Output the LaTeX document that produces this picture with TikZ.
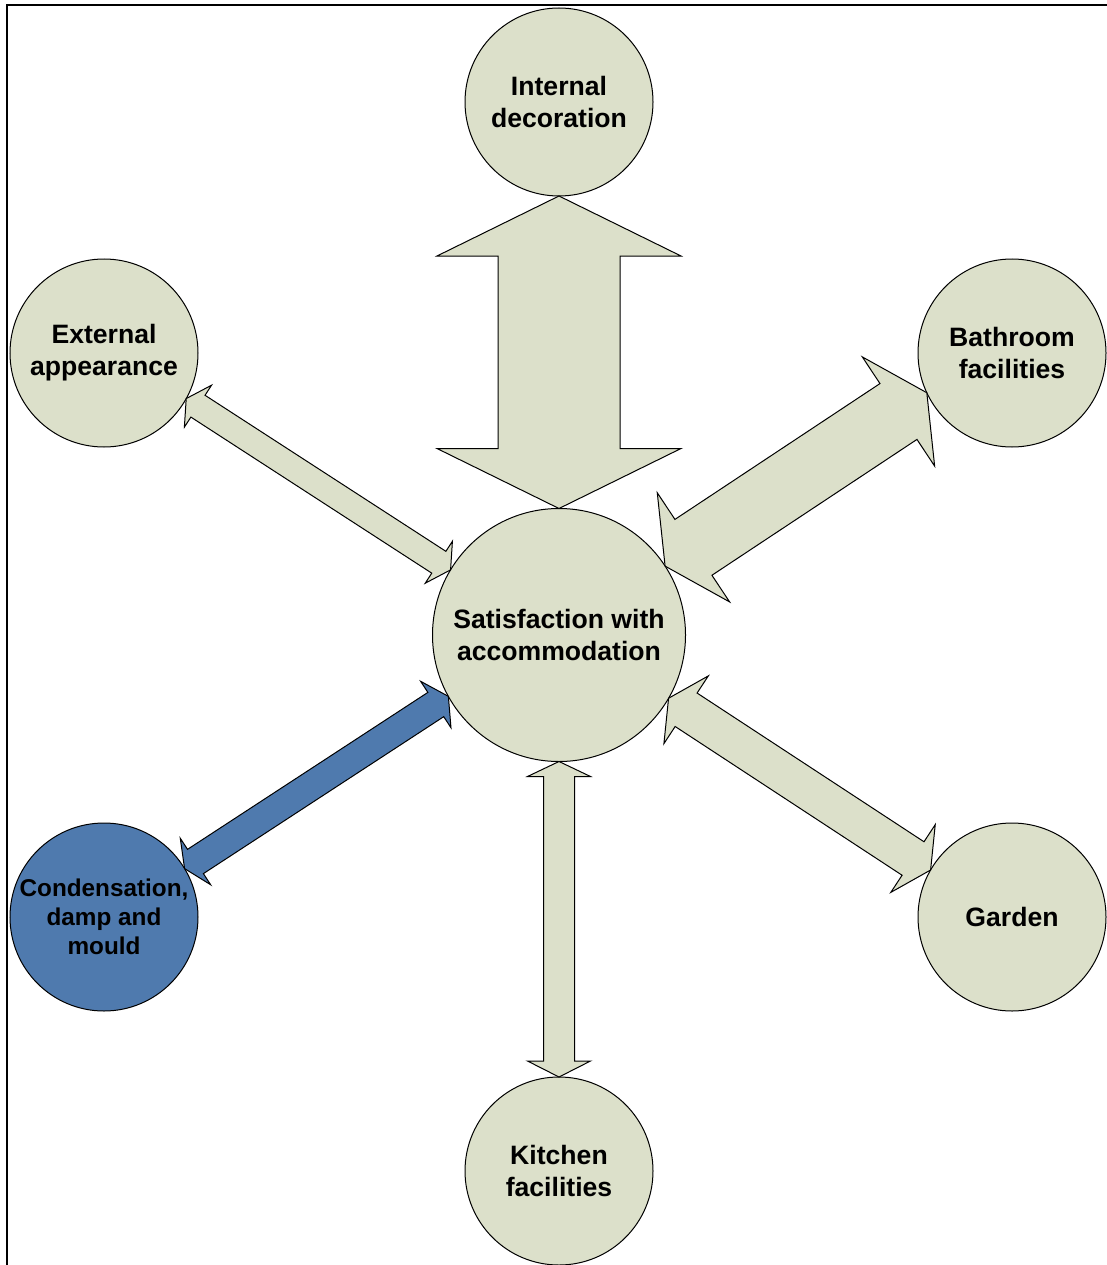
\documentclass[tikz,border=0pt]{standalone}
\usepackage{fontspec}
\setmainfont{Liberation Sans}
\usetikzlibrary{calc}
\definecolor{sage}{HTML}{DCE0CA}
\definecolor{steel}{HTML}{4F7AAE}
\tikzset{
  bubble/.style={circle, draw=black, line width=1pt, fill=sage, minimum size=188pt,
    inner sep=0pt, outer sep=0pt, align=center, text=black,
    font=\bfseries\fontsize{26.6}{32}\selectfont},
  hub/.style={bubble, minimum size=253pt},
  smalltext/.style={font=\bfseries\fontsize{24.3}{29}\selectfont},
  blockarrow/.style={draw=black, line width=1pt, fill=sage, line join=miter},
  frameline/.style={draw=black, line width=2pt},
}
% #1 options, #2 from, #3 to, #4 shaft half width, #5 head half width,
% #6 head length at from, #7 head length at to
\newcommand\dblarrow[7][]{%
  \coordinate (da-a) at (#2);
  \coordinate (da-b) at (#3);
  \coordinate (da-p) at ($(da-a)!#6!(da-b)$);
  \coordinate (da-q) at ($(da-b)!#7!(da-a)$);
  \draw[blockarrow,#1] (da-a)
    -- ($(da-p)!#5!90:(da-b)$) -- ($(da-p)!#4!90:(da-b)$)
    -- ($(da-q)!#4!-90:(da-a)$) -- ($(da-q)!#5!-90:(da-a)$)
    -- (da-b)
    -- ($(da-q)!#5!90:(da-a)$) -- ($(da-q)!#4!90:(da-a)$)
    -- ($(da-p)!#4!-90:(da-b)$) -- ($(da-p)!#5!-90:(da-b)$)
    -- cycle;
}
\begin{document}
\begin{tikzpicture}[x=1pt,y=-1pt]
\useasboundingbox (0,0) rectangle (1106,1265);
\fill[white] (0,0) rectangle (1106,1265);
\draw[frameline] (7,1266) -- (7,5) -- (1107,5);

\node[hub]    (sat)  at (559,635)  {Satisfaction with\\accommodation};
\node[bubble] (int)  at (559,102)  {Internal\\decoration};
\node[bubble] (ext)  at (104,353)  {External\\appearance};
\node[bubble] (bath) at (1012,353) {Bathroom\\facilities};
\node[bubble, smalltext, fill=steel] (cond) at (104,917) {Condensation,\\damp and\\mould};
\node[bubble] (gard) at (1012,917) {Garden};
\node[bubble] (kit)  at (559,1171) {Kitchen\\facilities};

\dblarrow{int.south}{sat.north}{61pt}{122pt}{60pt}{60pt}
\dblarrow{bath.205.2}{sat.33.3}{33.5pt}{65.5pt}{34pt}{34pt}
\dblarrow{ext.-29.8}{sat.149.5}{13pt}{25pt}{14pt}{14pt}
\dblarrow[fill=steel]{sat.209.7}{cond.31.5}{14.5pt}{27.75pt}{15pt}{13pt}
\dblarrow{sat.-30.8}{gard.150.4}{20pt}{40.5pt}{21pt}{21pt}
\dblarrow{sat.south}{kit.north}{15.5pt}{31.5pt}{15pt}{16pt}
\end{tikzpicture}
\end{document}
